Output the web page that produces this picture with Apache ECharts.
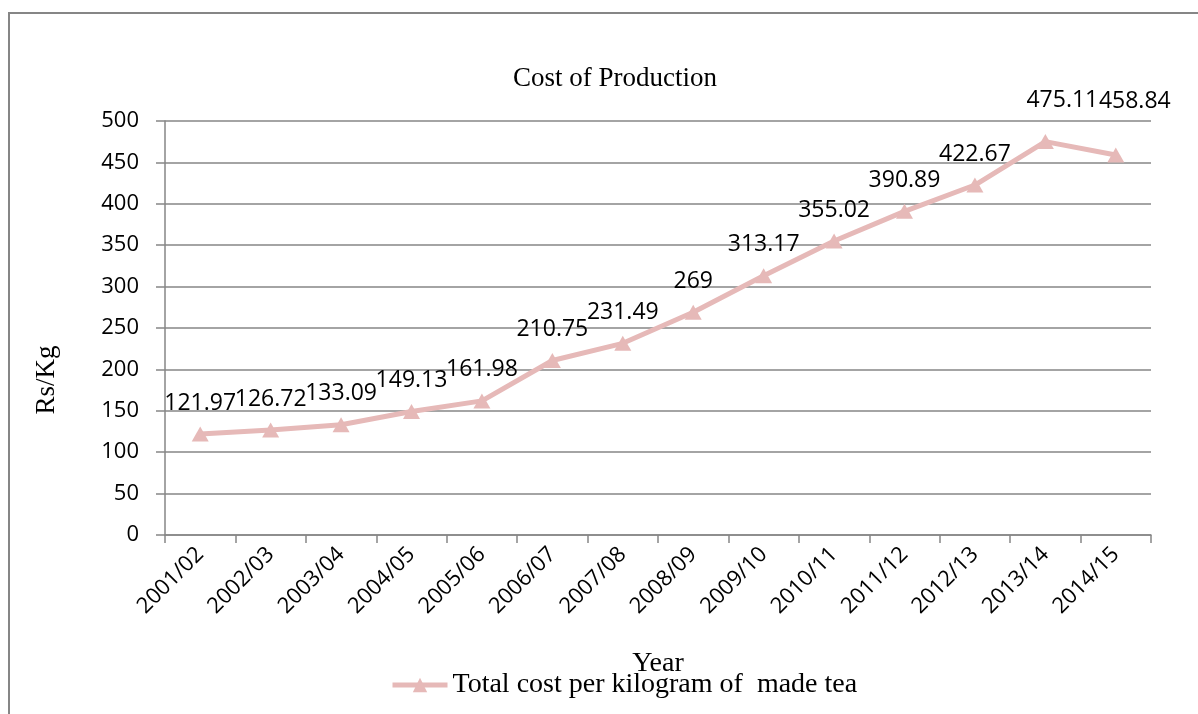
<!DOCTYPE html>
<html>
<head>
<meta charset="utf-8">
<script src="https://cdn.jsdelivr.net/npm/echarts@6/dist/echarts.min.js"></script>
<style>
html,body{margin:0;padding:0;background:#fff;overflow:hidden;}
#frame{position:absolute;left:8px;top:12px;width:1190px;height:710px;border-top:2px solid #868686;border-left:2px solid #868686;box-sizing:border-box;}
#c{position:absolute;left:0;top:0;width:1198px;height:714px;}
</style>
</head>
<body>
<div id="frame"></div>
<div id="c"></div>
<script>
const categories = ['2001/02','2002/03','2003/04','2004/05','2005/06','2006/07','2007/08','2008/09','2009/10','2010/11','2011/12','2012/13','2013/14','2014/15'];
const costValues = [121.97,126.72,133.09,149.13,161.98,210.75,231.49,269,313.17,355.02,390.89,422.67,475.11,458.84];
const yTicks = [0,50,100,150,200,250,300,350,400,450,500];
const seriesName = 'Total cost per kilogram of  made tea';

const chart = echarts.init(document.getElementById('c'), null, {renderer:'canvas'});
const grey = '#868686';
const lineColor = '#E6B9B8';

// Excel pushed the two last labels up/right to keep them inside the chart
const seriesData = costValues.map((v, i) => {
  if (i === costValues.length - 2) return {value: v, label: {offset: [17, -10]}};
  if (i === costValues.length - 1) return {value: v, label: {offset: [19, -23]}};
  return v;
});

chart.setOption({
  animation:false,
  backgroundColor:'transparent',
  title:{
    text:'Cost of Production',
    left:610, top:60, textAlign:'center',
    textStyle:{fontFamily:'Liberation Serif',fontSize:27,fontWeight:'normal',color:'#000'}
  },
  legend:{
    data:[seriesName],
    left:390, top:671,
    padding:0,
    itemWidth:55, itemHeight:18,
    lineStyle:{width:5},
    textStyle:{fontFamily:'Liberation Serif',fontSize:28,color:'#000'}
  },
  graphic:[{
    type:'text',
    x:47, y:380,
    rotation:Math.PI/2,
    style:{text:'Rs/Kg',font:'27px "Liberation Serif"',fill:'#000',textAlign:'center',textVerticalAlign:'middle'}
  }],
  grid:{left:165,right:47,top:121,bottom:179,containLabel:false},
  xAxis:{
    type:'category',
    data:categories,
    boundaryGap:true,
    name:'Year',
    nameLocation:'middle',
    nameGap:115,
    nameTextStyle:{fontFamily:'Liberation Serif',fontSize:28,color:'#000'},
    axisLine:{lineStyle:{color:grey,width:1.5}},
    axisTick:{show:true,length:8,lineStyle:{color:grey,width:1.5},alignWithLabel:false},
    axisLabel:{rotate:45,fontFamily:'Open Sans',fontSize:22,color:'#000',margin:16,interval:0},
    splitLine:{show:false}
  },
  yAxis:{
    type:'value',
    min:yTicks[0],max:yTicks[yTicks.length-1],interval:yTicks[1]-yTicks[0],
    axisLine:{show:true,lineStyle:{color:grey,width:1.5}},
    axisTick:{show:true,length:9,lineStyle:{color:grey,width:1.5}},
    axisLabel:{fontFamily:'Open Sans',fontSize:22,color:'#000',margin:26},
    splitLine:{show:true,lineStyle:{color:grey,width:1.5}}
  },
  series:[{
    name:seriesName,
    type:'line',
    data:seriesData,
    symbol:'triangle',
    symbolSize:[17,15],
    lineStyle:{color:lineColor,width:5},
    itemStyle:{color:lineColor},
    label:{
      show:true,position:'top',distance:12,
      fontFamily:'Open Sans',fontSize:23,color:'#000'
    }
  }]
});
</script>
</body>
</html>
